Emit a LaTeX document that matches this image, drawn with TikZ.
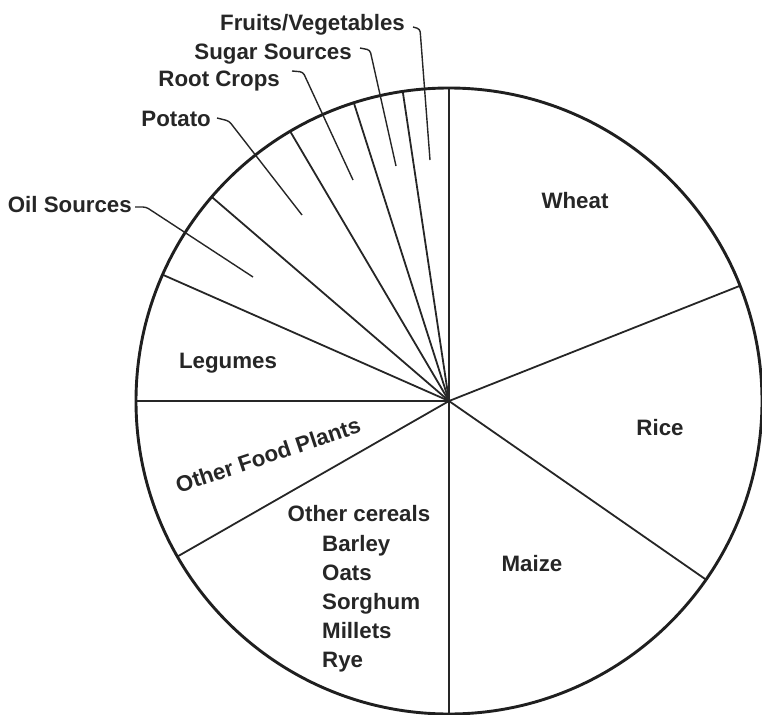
\documentclass[tikz,border=0pt]{standalone}
\usepackage{fontspec}
\setmainfont{Liberation Sans}
\usetikzlibrary{calc}
\begin{document}
\begin{tikzpicture}[x=1pt,y=1pt,
  rim/.style={line width=2.9pt,draw=black!88},
  spoke/.style={line width=1.8pt,draw=black!85},
  leader/.style={line width=1.4pt,draw=black!85,rounded corners=3pt},
  lbl/.style={inner sep=0pt,font=\fontsize{22.3}{25}\selectfont\bfseries,text=black!85}]
\useasboundingbox (0,0) rectangle (762,-714);
\coordinate (C) at (449,-401);
\def\R{313pt}
% spokes
\foreach \a/\n in {90/s1,98.5/s2,107.7/s3,120.5/s4,139.3/s5,156.2/s6,180/s7,209.8/s8,270/s9,325.2/s10,21.6/s11}{
  \coordinate (\n) at ($(C)+(\a:\R)$);
  \draw[spoke] (C) -- (\n);
}
\draw[rim] (C) circle[radius=\R];
% big sector labels
\node[lbl,anchor=base] (wheat) at (575,-208) {Wheat};
\node[lbl,anchor=base] (rice) at (660,-435) {Rice};
\node[lbl,anchor=base] (maize) at (532,-571) {Maize};
\node[lbl,anchor=base] (legumes) at (228,-368) {Legumes};
\node[lbl,anchor=center,rotate=18.5] (ofp) at (268,-455) {Other Food Plants};
\node[lbl,anchor=base] (oc) at (359,-521) {Other cereals};
\node[lbl,anchor=base west] (barley) at (322,-551) {Barley};
\node[lbl,anchor=base west] (oats) at (322,-580) {Oats};
\node[lbl,anchor=base west] (sorghum) at (322,-609) {Sorghum};
\node[lbl,anchor=base west] (millets) at (322,-638) {Millets};
\node[lbl,anchor=base west] (rye) at (322,-667) {Rye};
% small sectors with leaders
\node[lbl,anchor=base east] (fruits) at (405,-31) {Fruits/Vegetables};
\node[lbl,anchor=base east] (sugar) at (352,-60) {Sugar Sources};
\node[lbl,anchor=base east] (root) at (280,-87) {Root Crops};
\node[lbl,anchor=base east] (potato) at (211,-127) {Potato};
\node[lbl,anchor=base east] (oil) at (132,-212) {Oil Sources};
\coordinate (fruitsA) at (413,-27); \coordinate (fruitsB) at (420,-29); \coordinate (fruitsE) at (430,-160);
\coordinate (sugarA) at (360,-48); \coordinate (sugarB) at (370,-50); \coordinate (sugarE) at (396,-166);
\coordinate (rootA) at (292,-71); \coordinate (rootB) at (303,-72); \coordinate (rootE) at (353,-180);
\coordinate (potatoA) at (217,-118); \coordinate (potatoB) at (229,-121); \coordinate (potatoE) at (302,-215);
\coordinate (oilA) at (135,-207); \coordinate (oilB) at (146,-207); \coordinate (oilE) at (253,-277);
\foreach \n in {fruits,sugar,root,potato,oil}{
  \draw[leader] (\n A) -- (\n B) -- (\n E);
}
\end{tikzpicture}
\end{document}
